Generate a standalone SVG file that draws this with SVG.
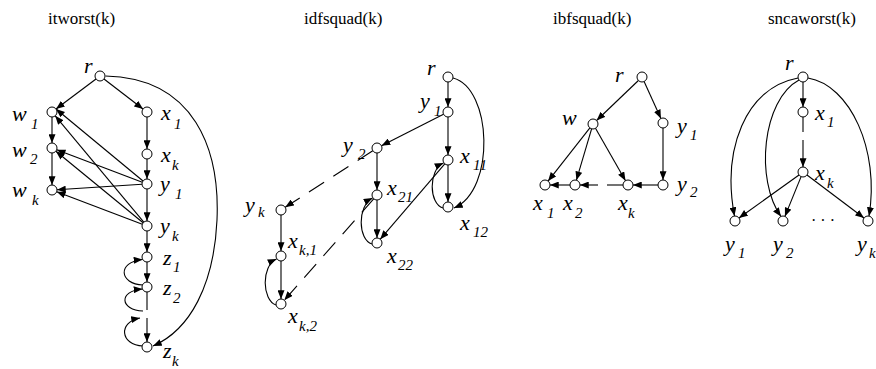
<svg xmlns="http://www.w3.org/2000/svg" width="876" height="369" viewBox="0 0 876 369">
<style>
.title{font-family:'Liberation Serif','Times New Roman',serif;font-size:17px;fill:#000}
.lb{font-family:'Liberation Serif','Times New Roman',serif;font-style:italic;font-size:22px;fill:#000}
.sb{font-size:15px}
.nd{fill:#fff;stroke:#000;stroke-width:1}
.e{fill:none;stroke:#000;stroke-width:1.1}
.a{marker-end:url(#ah)}
.d{stroke-dasharray:18 11}
</style>
<defs>
<marker id="ah" viewBox="0 0 10 8" refX="10" refY="4" markerWidth="9" markerHeight="7" markerUnits="userSpaceOnUse" orient="auto"><path d="M0,0 L10,4 L0,8 z" fill="#000"/></marker>
</defs>
<rect width="876" height="369" fill="#fff"/>
<g id="titles">
<text class="title" x="48" y="24">itworst(k)</text>
<text class="title" x="304" y="24">idfsquad(k)</text>
<text class="title" x="553" y="24">ibfsquad(k)</text>
<text class="title" x="768" y="24">sncaworst(k)</text>
</g>
<g id="connectors">
<line class="e a" x1="96" y1="79" x2="56" y2="109"/>
<line class="e a" x1="104" y1="79" x2="143" y2="109"/>
<line class="e a" x1="52" y1="117" x2="52" y2="143"/>
<line class="e a" x1="52" y1="153" x2="52" y2="185"/>
<line class="e a" x1="147" y1="117" x2="147" y2="149"/>
<line class="e a" x1="147" y1="159" x2="147" y2="179"/>
<line class="e a" x1="147" y1="189" x2="147" y2="221"/>
<line class="e a" x1="147" y1="231" x2="147" y2="252"/>
<line class="e a" x1="147" y1="262" x2="147" y2="282"/>
<line class="e" x1="147" y1="292" x2="147" y2="310"/>
<line class="e a" x1="147" y1="318" x2="147" y2="342"/>
<line class="e a" x1="143" y1="181" x2="56" y2="109"/>
<line class="e a" x1="142.3" y1="182.2" x2="56.7" y2="149.8"/>
<line class="e a" x1="142" y1="184.3" x2="57" y2="189.7"/>
<line class="e a" x1="143.8" y1="222.2" x2="55.2" y2="115.8"/>
<line class="e a" x1="143.1" y1="222.8" x2="55.9" y2="151.2"/>
<line class="e a" x1="142.3" y1="224.2" x2="56.7" y2="191.8"/>
<path class="e a" d="M143,285 C119,284 117,262 142.5,259.5"/>
<path class="e a" d="M143,311 C120,310 118,291 142.5,289"/>
<path class="e a" d="M143,346 C120,345 118,322 140,318"/>
<path class="e a" d="M105.5,76 C195,78 220,150 217,220 C214,285 190,330 153,346"/>
<line class="e a" x1="448" y1="82" x2="448" y2="107"/>
<line class="e a" x1="448" y1="117" x2="448" y2="155"/>
<line class="e a" x1="448" y1="165" x2="448" y2="202"/>
<line class="e a" x1="443.5" y1="114.3" x2="381.5" y2="145.7"/>
<line class="e a" x1="377" y1="153" x2="377" y2="190"/>
<line class="e a" x1="377" y1="200" x2="377" y2="238"/>
<line class="e a" x1="444.8" y1="163.8" x2="380.3" y2="239.2"/>
<line class="e a d" x1="372.8" y1="150.7" x2="285.2" y2="207.3"/>
<line class="e a" x1="281" y1="215" x2="281" y2="251"/>
<line class="e a" x1="281" y1="261" x2="281" y2="299"/>
<line class="e a d" x1="373.7" y1="198.8" x2="284.3" y2="300.2"/>
<path class="e a" d="M443,208 C429,204 428,170 443.5,163"/>
<path class="e a" d="M372,244 C358,240 357,206 372.5,198"/>
<path class="e a" d="M276,305 C262,300 261,266 276.5,259"/>
<path class="e a" d="M453,78 C492,88 496,190 454,208"/>
<line class="e a" x1="638.4" y1="80.5" x2="596.6" y2="120.5"/>
<line class="e a" x1="644.1" y1="81.5" x2="660.9" y2="118.5"/>
<line class="e a" x1="589.9" y1="127.9" x2="548.1" y2="181.1"/>
<line class="e a" x1="591.6" y1="128.8" x2="576.4" y2="180.2"/>
<line class="e a" x1="595.5" y1="128.3" x2="625.5" y2="180.7"/>
<line class="e a" x1="663" y1="128" x2="663" y2="180"/>
<line class="e a" x1="658" y1="185" x2="633" y2="185"/>
<line class="e a" x1="570" y1="185" x2="550" y2="185"/>
<line class="e" x1="623" y1="185" x2="607" y2="185"/>
<line class="e a" x1="598" y1="185" x2="580" y2="185"/>
<line class="e a" x1="803" y1="82" x2="803" y2="107"/>
<line class="e" x1="803" y1="117" x2="803" y2="132"/>
<line class="e a" x1="803" y1="140" x2="803" y2="167"/>
<line class="e a" x1="799" y1="175" x2="739" y2="218"/>
<line class="e a" x1="801.1" y1="176.6" x2="784.9" y2="216.4"/>
<line class="e a" x1="807" y1="175" x2="864" y2="218"/>
<path class="e a" d="M798,78 C745,88 722,150 734.5,216"/>
<path class="e a" d="M799,80 C762,100 755,180 781,216.5"/>
<path class="e a" d="M808,78 C850,85 880,150 869,216"/>
</g>
<g id="it-r"><circle class="nd" cx="100" cy="76" r="5"/><text class="lb" x="84" y="73">r</text></g>
<g id="it-w1"><circle class="nd" cx="52" cy="112" r="5"/><text class="lb" x="12" y="121">w<tspan class="sb" x="31" y="129">1</tspan></text></g>
<g id="it-w2"><circle class="nd" cx="52" cy="148" r="5"/><text class="lb" x="12" y="157">w<tspan class="sb" x="30" y="164">2</tspan></text></g>
<g id="it-wk"><circle class="nd" cx="52" cy="190" r="5"/><text class="lb" x="12" y="197">w<tspan class="sb" x="32" y="205">k</tspan></text></g>
<g id="it-x1"><circle class="nd" cx="147" cy="112" r="5"/><text class="lb" x="161" y="120">x<tspan class="sb" x="174" y="129">1</tspan></text></g>
<g id="it-xk"><circle class="nd" cx="147" cy="154" r="5"/><text class="lb" x="161" y="162">x<tspan class="sb" x="172" y="170">k</tspan></text></g>
<g id="it-y1"><circle class="nd" cx="147" cy="184" r="5"/><text class="lb" x="160" y="191">y<tspan class="sb" x="175" y="199">1</tspan></text></g>
<g id="it-yk"><circle class="nd" cx="147" cy="226" r="5"/><text class="lb" x="160" y="233">y<tspan class="sb" x="172" y="241">k</tspan></text></g>
<g id="it-z1"><circle class="nd" cx="147" cy="257" r="5"/><text class="lb" x="163" y="265">z<tspan class="sb" x="173" y="272">1</tspan></text></g>
<g id="it-z2"><circle class="nd" cx="147" cy="287" r="5"/><text class="lb" x="163" y="295">z<tspan class="sb" x="173" y="303">2</tspan></text></g>
<g id="it-zk"><circle class="nd" cx="147" cy="347" r="5"/><text class="lb" x="163" y="358">z<tspan class="sb" x="172" y="366">k</tspan></text></g>
<g id="id-r"><circle class="nd" cx="448" cy="77" r="5"/><text class="lb" x="427" y="75">r</text></g>
<g id="id-y1"><circle class="nd" cx="448" cy="112" r="5"/><text class="lb" x="420" y="108">y<tspan class="sb" x="434" y="116">1</tspan></text></g>
<g id="id-y2"><circle class="nd" cx="377" cy="148" r="5"/><text class="lb" x="343" y="152">y<tspan class="sb" x="358" y="159">2</tspan></text></g>
<g id="id-x11"><circle class="nd" cx="448" cy="160" r="5"/><text class="lb" x="460" y="163">x<tspan class="sb" x="473" y="170">11</tspan></text></g>
<g id="id-x12"><circle class="nd" cx="448" cy="207" r="5"/><text class="lb" x="460" y="230">x<tspan class="sb" x="473" y="237">12</tspan></text></g>
<g id="id-x21"><circle class="nd" cx="377" cy="195" r="5"/><text class="lb" x="387" y="195">x<tspan class="sb" x="398" y="202">21</tspan></text></g>
<g id="id-x22"><circle class="nd" cx="377" cy="243" r="5"/><text class="lb" x="387" y="263">x<tspan class="sb" x="398" y="270">22</tspan></text></g>
<g id="id-yk"><circle class="nd" cx="281" cy="210" r="5"/><text class="lb" x="245" y="212">y<tspan class="sb" x="258" y="217">k</tspan></text></g>
<g id="id-xk1"><circle class="nd" cx="281" cy="256" r="5"/><text class="lb" x="288" y="248">x<tspan class="sb" x="299" y="255">k,1</tspan></text></g>
<g id="id-xk2"><circle class="nd" cx="281" cy="304" r="5"/><text class="lb" x="288" y="323">x<tspan class="sb" x="299" y="331">k,2</tspan></text></g>
<g id="ib-r"><circle class="nd" cx="642" cy="77" r="5"/><text class="lb" x="615" y="82">r</text></g>
<g id="ib-w"><circle class="nd" cx="593" cy="124" r="5"/><text class="lb" x="562" y="125">w</text></g>
<g id="ib-y1"><circle class="nd" cx="663" cy="123" r="5"/><text class="lb" x="677" y="133">y<tspan class="sb" x="690" y="140">1</tspan></text></g>
<g id="ib-x1"><circle class="nd" cx="545" cy="185" r="5"/><text class="lb" x="533" y="210">x<tspan class="sb" x="547" y="218">1</tspan></text></g>
<g id="ib-x2"><circle class="nd" cx="575" cy="185" r="5"/><text class="lb" x="563" y="210">x<tspan class="sb" x="575" y="218">2</tspan></text></g>
<g id="ib-xk"><circle class="nd" cx="628" cy="185" r="5"/><text class="lb" x="618" y="210">x<tspan class="sb" x="628" y="218">k</tspan></text></g>
<g id="ib-y2"><circle class="nd" cx="663" cy="185" r="5"/><text class="lb" x="677" y="191">y<tspan class="sb" x="690" y="197">2</tspan></text></g>
<g id="sn-r"><circle class="nd" cx="803" cy="77" r="5"/><text class="lb" x="785" y="70">r</text></g>
<g id="sn-x1"><circle class="nd" cx="803" cy="112" r="5"/><text class="lb" x="815" y="120">x<tspan class="sb" x="827" y="127">1</tspan></text></g>
<g id="sn-xk"><circle class="nd" cx="803" cy="172" r="5"/><text class="lb" x="815" y="180">x<tspan class="sb" x="827" y="188">k</tspan></text></g>
<g id="sn-y1"><circle class="nd" cx="735" cy="221" r="5"/><text class="lb" x="725" y="251">y<tspan class="sb" x="738" y="258">1</tspan></text></g>
<g id="sn-y2"><circle class="nd" cx="783" cy="221" r="5"/><text class="lb" x="773" y="251">y<tspan class="sb" x="786" y="258">2</tspan></text></g>
<g id="sn-yk"><circle class="nd" cx="868" cy="221" r="5"/><text class="lb" x="857" y="251">y<tspan class="sb" x="869" y="258">k</tspan></text></g>
<g id="sn-dots"><text x="811" y="226" font-family="Liberation Serif, serif" font-size="16">· · ·</text></g>
</svg>
